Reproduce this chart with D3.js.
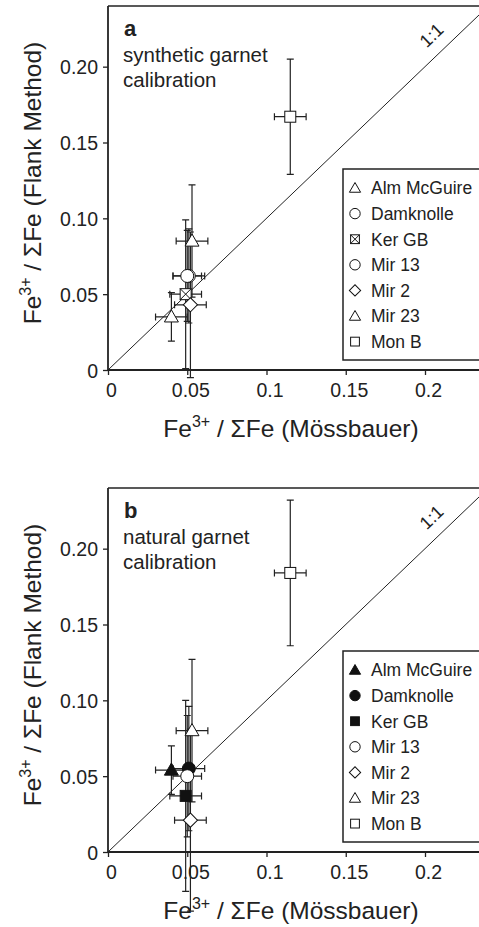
<!DOCTYPE html>
<html>
<head>
<meta charset="utf-8">
<script src="https://cdn.jsdelivr.net/npm/d3@7"></script>
<style>
  body { margin: 0; background: #fff; }
  text { font-family: "Liberation Sans", Arial, sans-serif; fill: #222; }
</style>
</head>
<body>
<div id="chart"></div>
<script>
// samples (same order in both panels)
const samples = ["Alm McGuire", "Damknolle", "Ker GB", "Mir 13", "Mir 2", "Mir 23", "Mon B"];
// Mossbauer Fe3+/sum Fe and its error
const mossbauer = [0.040, 0.051, 0.049, 0.050, 0.052, 0.053, 0.115];
const mossErr = [0.010, 0.010, 0.010, 0.009, 0.010, 0.010, 0.010];
// flank method, synthetic garnet calibration (panel a)
const flankSynth = [0.035, 0.062, 0.050, 0.062, 0.043, 0.085, 0.167];
const flankSynthErr = [0.016, 0.031, 0.049, 0.030, 0.048, 0.037, 0.038];
// flank method, natural garnet calibration (panel b)
const flankNat = [0.054, 0.055, 0.037, 0.050, 0.021, 0.080, 0.184];
const flankNatErr = [0.016, 0.041, 0.063, 0.040, 0.060, 0.047, 0.048];
// marker shapes per panel
const shapesA = ["triangle", "circle", "xsquare", "circle", "diamond", "triangle", "square"];
const shapesB = ["triangle", "circle", "square", "circle", "diamond", "triangle", "square"];
const filledA = [false, false, false, false, false, false, false];
const filledB = [true, true, true, false, false, false, false];
const tickVals = [0, 0.05, 0.1, 0.15, 0.2];

const W = 479, H = 927;
const svg = d3.select("#chart").append("svg").attr("width", W).attr("height", H);

const panels = [
  {top: 6, letter: "a", line1: "synthetic garnet", y: flankSynth, err: flankSynthErr, shapes: shapesA, filled: filledA},
  {top: 488, letter: "b", line1: "natural garnet", y: flankNat, err: flankNatErr, shapes: shapesB, filled: filledB}
];

const left = 108, plotH = 364;
const x = d3.scaleLinear().domain([0, 0.24]).range([left, left + 0.24 * 1585]);

function marker(g, shape, cx, cy, filled, scale) {
  const fill = filled ? "#111" : "#fff";
  const s = scale || 1;
  if (shape === "triangle") {
    g.append("path").attr("d", d3.symbol(d3.symbolTriangle, 85 * s * s)())
      .attr("transform", `translate(${cx},${cy + 1})`)
      .attr("fill", fill).attr("stroke", "#111").attr("stroke-width", 1);
  } else if (shape === "circle") {
    g.append("circle").attr("cx", cx).attr("cy", cy).attr("r", 6.5 * s)
      .attr("fill", fill).attr("stroke", "#111").attr("stroke-width", 1);
  } else if (shape === "diamond") {
    g.append("path").attr("d", d3.symbol(d3.symbolSquare, 100 * s * s)())
      .attr("transform", `translate(${cx},${cy}) rotate(45)`)
      .attr("fill", fill).attr("stroke", "#111").attr("stroke-width", 1);
  } else {
    const h = 5.5 * s;
    g.append("rect").attr("x", cx - h).attr("y", cy - h).attr("width", 2 * h).attr("height", 2 * h)
      .attr("fill", fill).attr("stroke", "#111").attr("stroke-width", 1);
    if (shape === "xsquare") {
      g.append("path").attr("d", `M${cx - h},${cy - h}L${cx + h},${cy + h}M${cx + h},${cy - h}L${cx - h},${cy + h}`)
        .attr("stroke", "#111").attr("stroke-width", 1);
    }
  }
}

panels.forEach(p => {
  const y = d3.scaleLinear().domain([0, 0.24]).range([p.top + plotH, p.top]);
  const g = svg.append("g");

  // frame top
  g.append("line").attr("x1", left).attr("x2", W).attr("y1", p.top).attr("y2", p.top)
    .attr("stroke", "#222").attr("stroke-width", 1.6);

  // 1:1 line
  g.append("line").attr("x1", x(0)).attr("y1", y(0)).attr("x2", x(0.24)).attr("y2", y(0.24))
    .attr("stroke", "#222").attr("stroke-width", 1);
  const ang = -Math.atan(1515 / 1585) * 180 / Math.PI;
  g.append("text").attr("transform", `translate(${x(0.2118) - 8},${y(0.2118) - 9}) rotate(${ang})`)
    .attr("text-anchor", "middle").attr("font-size", 18).text("1:1");

  // axes
  const ya = g.append("g").attr("transform", `translate(${left},0)`)
    .call(d3.axisLeft(y).tickValues(tickVals).tickSize(5).tickPadding(5)
      .tickFormat(d => d === 0 ? "0" : d3.format(".2f")(d)));
  const xa = g.append("g").attr("transform", `translate(0,${p.top + plotH})`)
    .call(d3.axisBottom(x).tickValues(tickVals).tickSize(5).tickPadding(8)
      .tickFormat(d => d === 0 ? "0" : String(d)));
  [ya, xa].forEach(a => {
    a.select(".domain").attr("stroke", "#222").attr("stroke-width", 1.8);
    a.selectAll(".tick line").attr("stroke", "#222").attr("stroke-width", 1.3);
    a.selectAll(".tick text").attr("font-size", 19.5).attr("fill", "#222")
      .attr("font-family", "Liberation Sans, Arial, sans-serif");
  });
  xa.selectAll(".tick text").attr("dx", 3);
  ya.selectAll(".tick text").attr("dy", "0.36em");
  // extend x axis to the right edge
  xa.select(".domain").attr("d", `M${left},0H${W}`);
  ya.select(".domain").attr("d", `M0,${p.top}V${p.top + plotH}`);

  // panel labels
  g.append("text").attr("x", 124).attr("y", p.top + 30).attr("font-size", 22)
    .attr("font-weight", "bold").text(p.letter);
  g.append("text").attr("x", 123).attr("y", p.top + 56).attr("font-size", 20.5).text(p.line1);
  g.append("text").attr("x", 123).attr("y", p.top + 81).attr("font-size", 20.5).text("calibration");

  // error bars
  const eb = g.append("g").attr("stroke", "#222").attr("stroke-width", 1.2).attr("fill", "none");
  samples.forEach((s, i) => {
    const cx = x(mossbauer[i]), cy = y(p.y[i]);
    const y1 = y(p.y[i] + p.err[i]), y2 = y(p.y[i] - p.err[i]);
    const x1 = x(mossbauer[i] - mossErr[i]), x2 = x(mossbauer[i] + mossErr[i]);
    eb.append("path").attr("d",
      `M${cx},${y1}V${y2}M${cx - 3.5},${y1}H${cx + 3.5}M${cx - 3.5},${y2}H${cx + 3.5}` +
      `M${x1},${cy}H${x2}M${x1},${cy - 3.5}V${cy + 3.5}M${x2},${cy - 3.5}V${cy + 3.5}`);
  });
  // markers
  const mk = g.append("g");
  samples.forEach((s, i) => marker(mk, p.shapes[i], x(mossbauer[i]), y(p.y[i]), p.filled[i]));

  // legend
  const lg = g.append("g");
  lg.append("rect").attr("x", 343).attr("y", p.top + 163).attr("width", 150).attr("height", 191)
    .attr("fill", "#fff").attr("stroke", "#222").attr("stroke-width", 1.5);
  samples.forEach((s, i) => {
    const ly = p.top + 182 + i * 25.6;
    marker(lg, p.shapes[i], 355, ly, p.filled[i], 0.8);
    lg.append("text").attr("x", 371).attr("y", ly).attr("dy", "0.36em").attr("font-size", 17.5).text(s);
  });

  // axis titles
  const yt = g.append("text").attr("transform", `translate(41,${p.top + 177}) rotate(-90)`)
    .attr("text-anchor", "middle").attr("font-size", 24.5);
  yt.append("tspan").text("Fe");
  yt.append("tspan").attr("dy", -10).attr("font-size", 16).text("3+");
  yt.append("tspan").attr("dy", 10).text(" / ΣFe (Flank Method)");

  const xt = g.append("text").attr("x", 291).attr("y", p.top + 431)
    .attr("text-anchor", "middle").attr("font-size", 24.5);
  xt.append("tspan").text("Fe");
  xt.append("tspan").attr("dy", -10).attr("font-size", 16).text("3+");
  xt.append("tspan").attr("dy", 10).text(" / ΣFe (Mössbauer)");
});
</script>
</body>
</html>
